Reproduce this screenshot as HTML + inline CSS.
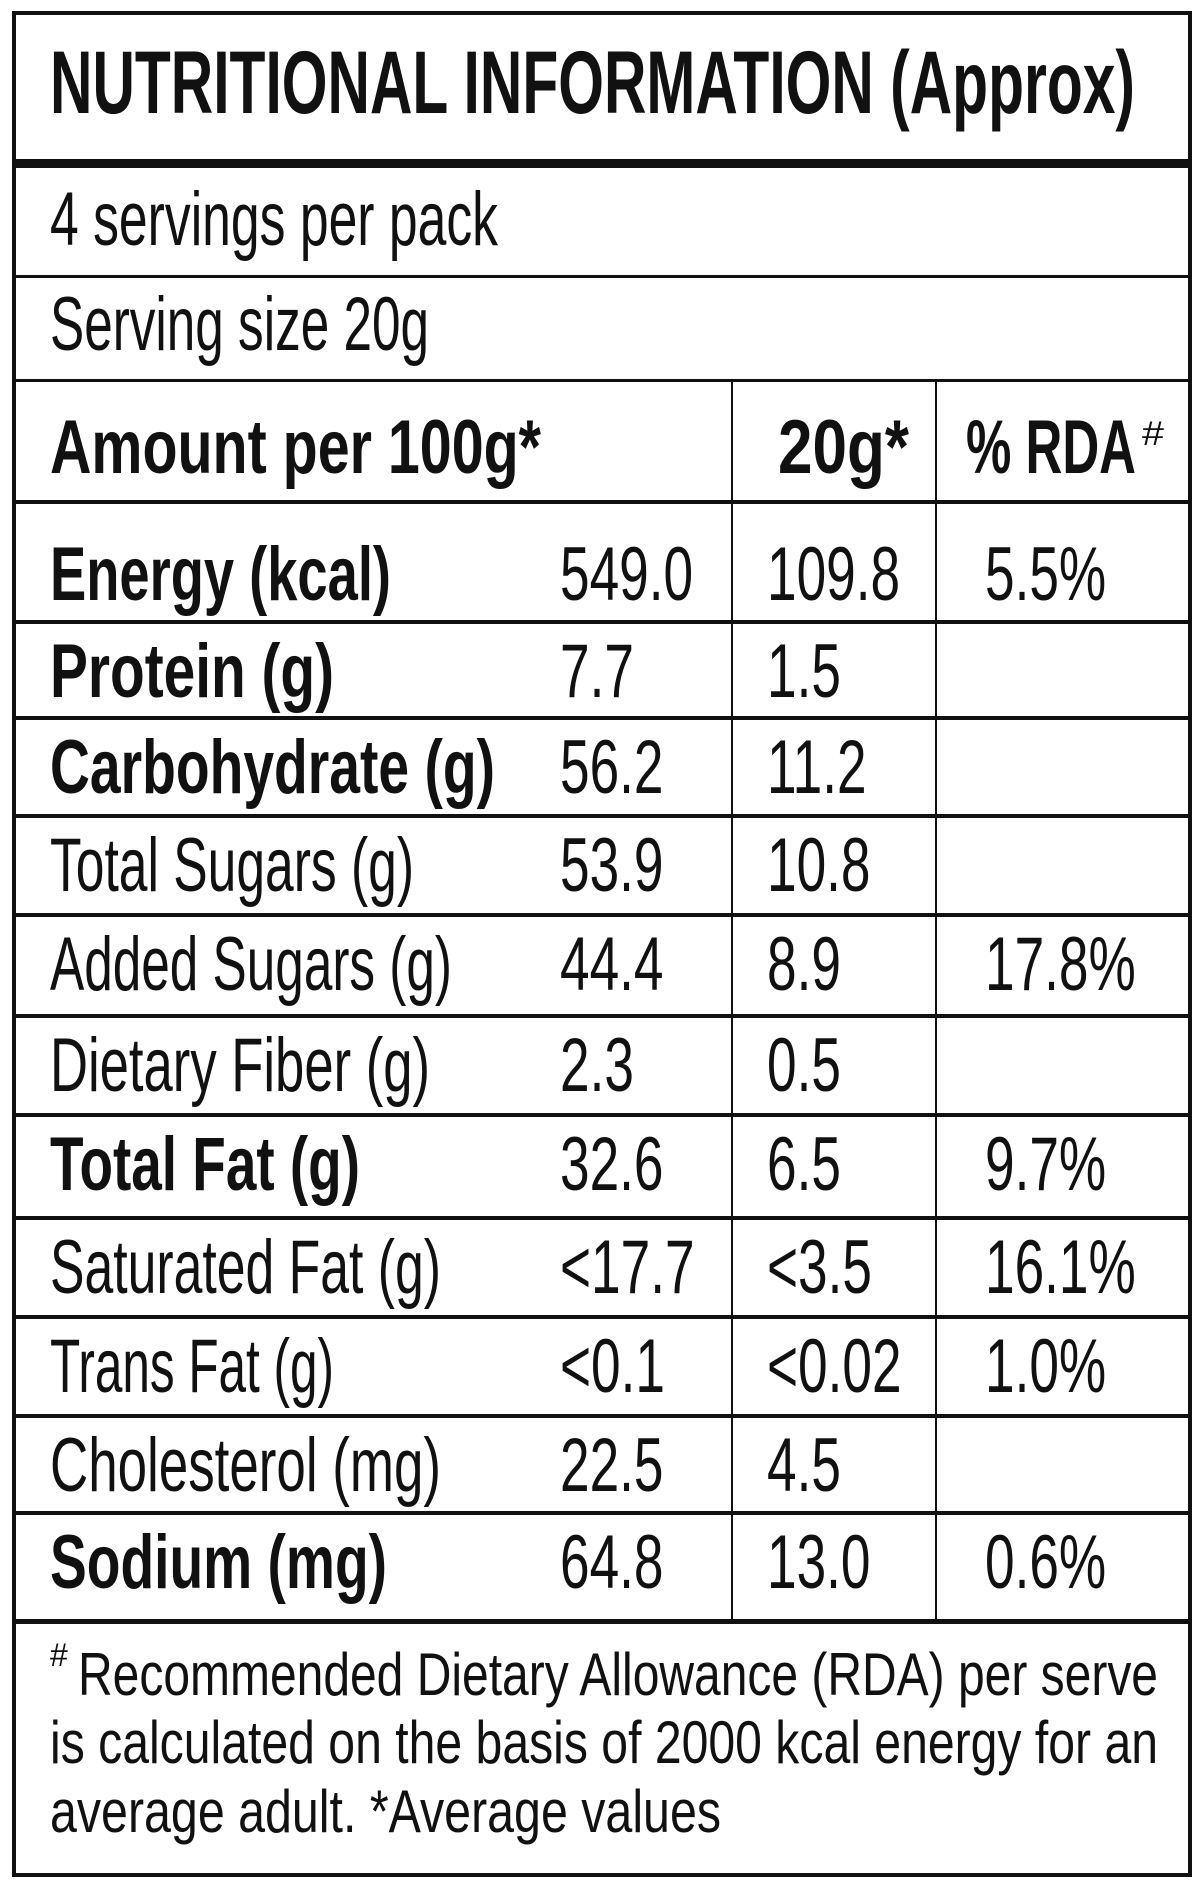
<!DOCTYPE html>
<html><head><meta charset="utf-8"><style>
html,body{margin:0;padding:0;background:#fff;width:1200px;height:1882px;overflow:hidden}
svg{display:block}
text{font-family:"Liberation Sans",sans-serif;fill:#111}
.b{font-weight:bold}
</style></head><body>
<svg id="chart" width="1200" height="1882" viewBox="0 0 1200 1882">
<rect x="14" y="13" width="1176" height="1862" fill="#fff" stroke="#111" stroke-width="4"/>
<rect x="14" y="159" width="1176" height="9" fill="#111"/>
<rect x="14" y="275" width="1176" height="3" fill="#111"/>
<rect x="14" y="379" width="1176" height="3" fill="#111"/>
<text class="b" x="50" y="113" font-size="89" textLength="1085" lengthAdjust="spacingAndGlyphs">NUTRITIONAL INFORMATION (Approx)</text>
<text x="50" y="245" font-size="76" textLength="448" lengthAdjust="spacingAndGlyphs">4 servings per pack</text>
<text x="50" y="350" font-size="76" textLength="379" lengthAdjust="spacingAndGlyphs">Serving size 20g</text>
<text class="b" x="50" y="473" font-size="76" textLength="491" lengthAdjust="spacingAndGlyphs">Amount per 100g*</text>
<text class="b" x="778" y="473" font-size="76" textLength="131" lengthAdjust="spacingAndGlyphs">20g*</text>
<text class="b" x="966" y="473" font-size="76" textLength="170" lengthAdjust="spacingAndGlyphs">% RDA</text>
<text x="1142" y="445" font-size="34" textLength="22" lengthAdjust="spacingAndGlyphs">#</text>
<rect x="14" y="500" width="1176" height="4" fill="#111"/>
<rect x="731" y="381" width="2" height="1240" fill="#111"/>
<rect x="935" y="381" width="2" height="1240" fill="#111"/>
<g id="rows"></g>
<rect x="14" y="1619" width="1176" height="5" fill="#111"/>
<text x="50" y="1666" font-size="32">#</text>
<text x="78" y="1695" font-size="60" textLength="1080" lengthAdjust="spacingAndGlyphs">Recommended Dietary Allowance (RDA) per serve</text>
<text x="50" y="1763" font-size="60" textLength="1108" lengthAdjust="spacingAndGlyphs">is calculated on the basis of 2000 kcal energy for an</text>
<text x="50" y="1832" font-size="60" textLength="671" lengthAdjust="spacingAndGlyphs">average adult. *Average values</text>
</svg>
<script>
const labels=["Energy (kcal)","Protein (g)","Carbohydrate (g)","Total Sugars (g)","Added Sugars (g)","Dietary Fiber (g)","Total Fat (g)","Saturated Fat (g)","Trans Fat (g)","Cholesterol (mg)","Sodium (mg)"];
const bold=[true,true,true,false,false,false,true,false,false,false,true];
const per100=["549.0","7.7","56.2","53.9","44.4","2.3","32.6","<17.7","<0.1","22.5","64.8"];
const per20=["109.8","1.5","11.2","10.8","8.9","0.5","6.5","<3.5","<0.02","4.5","13.0"];
const rda=["5.5%","","","","17.8%","","9.7%","16.1%","1.0%","","0.6%"];
const labelW=[341,284,445,364,402,380,310,391,284,391,337];
const rowTops=[502,622,718,816,915,1016,1115,1218,1317,1416,1513];
const NS="http://www.w3.org/2000/svg";
const g=document.getElementById('rows');
function txt(s,x,y,isBold,w,name){
  const t=document.createElementNS(NS,'text');
  
  
  t.setAttribute('font-size','76');
  if(isBold) t.setAttribute('font-weight','bold');
  if(w){t.setAttribute('x',x);t.setAttribute('y',y);t.setAttribute('textLength',w);t.setAttribute('lengthAdjust','spacingAndGlyphs');}
  else{t.setAttribute('transform','translate('+x+','+y+') scale(0.70,1)');}
  t.textContent=s;g.appendChild(t);
}
labels.forEach((l,i)=>{
  const top=rowTops[i];
  const base=i===0?top+98:top+75;
  if(i>0){
    const r=document.createElementNS(NS,'rect');
    
    
    r.setAttribute('x',14);r.setAttribute('y',top-2);r.setAttribute('width',1176);r.setAttribute('height',4);r.setAttribute('fill','#111');
    g.appendChild(r);
  }
  txt(l,50,base,bold[i],labelW[i],'row-label');
  txt(per100[i],560,base,false,0,'value-per-100g');
  txt(per20[i],767,base,false,0,'value-per-20g');
  if(rda[i]) txt(rda[i],985,base,false,0,'value-rda');
});
</script>
</body></html>
